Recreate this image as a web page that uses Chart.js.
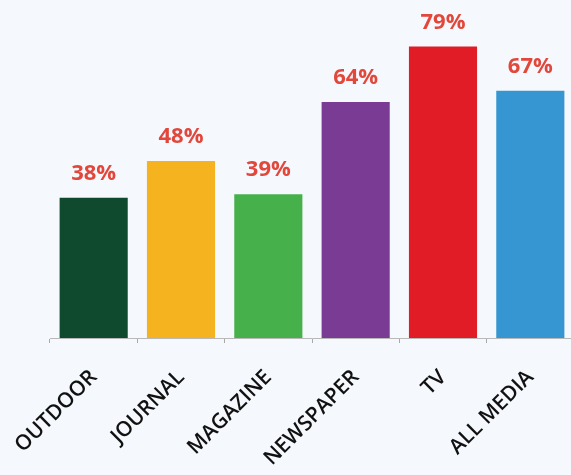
<!DOCTYPE html>
<html>
<head>
<meta charset="utf-8">
<script src="https://cdn.jsdelivr.net/npm/chart.js@4/dist/chart.umd.min.js"></script>
<style>
  html, body { margin: 0; padding: 0; background: #f5f8fc; overflow: hidden; }
  #wrap { width: 571px; height: 475px; overflow: hidden; }
  canvas { display: block; }
</style>
</head>
<body>
<div id="wrap"><canvas id="chart-media" width="580" height="475"></canvas></div>
<script>
const categories = ["OUTDOOR", "JOURNAL", "MAGAZINE", "NEWSPAPER", "TV", "ALL MEDIA"];
const shares = [38, 48, 39, 64, 79, 67];
const barColors = ["#0f4a2f", "#f5b320", "#46b04b", "#7a3b95", "#e11c26", "#3596d1"];

// percentage above each bar
const valueLabels = {
  id: "valueLabels",
  afterDatasetsDraw(chart) {
    const ctx = chart.ctx;
    const meta = chart.getDatasetMeta(0);
    ctx.save();
    ctx.font = "bold 22px 'Open Sans'";
    ctx.fillStyle = "#e2473b";
    ctx.textAlign = "center";
    ctx.textBaseline = "alphabetic";
    meta.data.forEach((bar, i) => {
      ctx.fillText(`${shares[i]}%`, bar.x, bar.y - 18);
    });
    ctx.restore();
  },
};

new Chart(document.getElementById("chart-media"), {
  type: "bar",
  data: {
    labels: categories,
    datasets: [{
      data: shares,
      backgroundColor: barColors,
      categoryPercentage: 1,
      barPercentage: 0.78,
    }],
  },
  options: {
    responsive: false,
    devicePixelRatio: 1,
    animation: false,
    layout: { padding: { left: 50, right: 6, top: 6, bottom: 0 } },
    plugins: { legend: { display: false }, tooltip: { enabled: false } },
    scales: {
      x: {
        offset: true,
        grid: { offset: true, drawOnChartArea: false, tickLength: 5, color: "#a9a9a9" },
        border: { color: "#b8b8b8", width: 1 },
        ticks: {
          autoSkip: false,
          minRotation: 45,
          maxRotation: 45,
          padding: 22,
          color: "#111",
          font: { family: "'Open Sans'", size: 21, weight: "600" },
        },
        afterFit: (scale) => {
          // rotated labels may hang past the left edge
          scale.height = 137;
          scale.paddingLeft = 0;
          scale.paddingRight = 0;
        },
      },
      y: { display: false, min: 0, max: 90 },
    },
  },
  plugins: [valueLabels],
});
</script>
</body>
</html>
